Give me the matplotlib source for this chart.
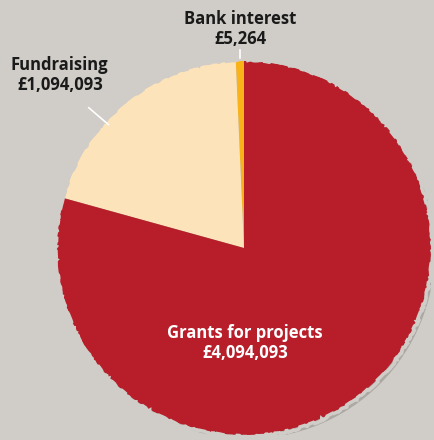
import matplotlib
matplotlib.use('Agg')
import matplotlib.pyplot as plt
from matplotlib.patches import Circle

plt.rcParams['font.family'] = ['Open Sans', 'DejaVu Sans']

# 数据（金额取自标签，扇区份额按图估读）
categories = ['Bank interest', 'Fundraising', 'Grants for projects']
amounts = ['£5,264', '£1,094,093', '£4,094,093']
shares = [0.7, 20.0, 79.3]

COLORS = {
    'bg': '#d0ccc7',
    'slices': ['#f9b318', '#fde3b9', '#b71e2a'],
    'shadow': '#9d9994',
    'text': '#1a1a1a',
}

fig = plt.figure(figsize=(4.34, 4.40), dpi=100, facecolor=COLORS['bg'])
# 饼图中心约在 (244, 248) px，半径约 187 px
r_px = 187
ax = fig.add_axes([(244 - r_px) / 434, (192 - r_px) / 440, 2 * r_px / 434, 2 * r_px / 440])
ax.set_facecolor(COLORS['bg'])

# 阴影
shadow = Circle((0.02, -0.02), 1.0, color=COLORS['shadow'], alpha=0.7, zorder=0, lw=0)
ax.add_patch(shadow)

wedges, _ = ax.pie(shares, colors=COLORS['slices'], startangle=90, counterclock=True,
                   radius=1.0, wedgeprops=dict(linewidth=0))
for w in wedges:
    w.set_zorder(2)

# 撕纸效果的毛边
rim = Circle((0, 0), 1.008, fill=False, edgecolor=COLORS['bg'], lw=2.5, zorder=2.5)
rim.set_sketch_params(scale=1.0, length=40, randomness=30)
ax.add_patch(rim)

ax.set_xlim(-1, 1)
ax.set_ylim(-1, 1)
ax.set_aspect('equal')
ax.axis('off')

# 标签
fs = 12
ax.text(-0.02, 1.17, f'{categories[0]}\n{amounts[0]}', ha='center', va='center',
        fontsize=fs, fontweight='bold', color=COLORS['text'], linespacing=1.15, clip_on=False)
ax.plot([-0.022, -0.022], [1.06, 1.015], color='white', lw=1.2, clip_on=False, zorder=3)

ax.text(-0.985, 0.925, f'{categories[1]}\n{amounts[1]}', ha='center', va='center',
        fontsize=fs, fontweight='bold', color=COLORS['text'], linespacing=1.15, clip_on=False)
ax.plot([-0.83, -0.725], [0.75, 0.66], color='white', lw=1.2, clip_on=False, zorder=3)

ax.text(0.005, -0.51, f'{categories[2]}\n{amounts[2]}', ha='center', va='center',
        fontsize=fs, fontweight='bold', color='white', linespacing=1.15, zorder=4)

fig.savefig('out.png', dpi=100, facecolor=COLORS['bg'])
